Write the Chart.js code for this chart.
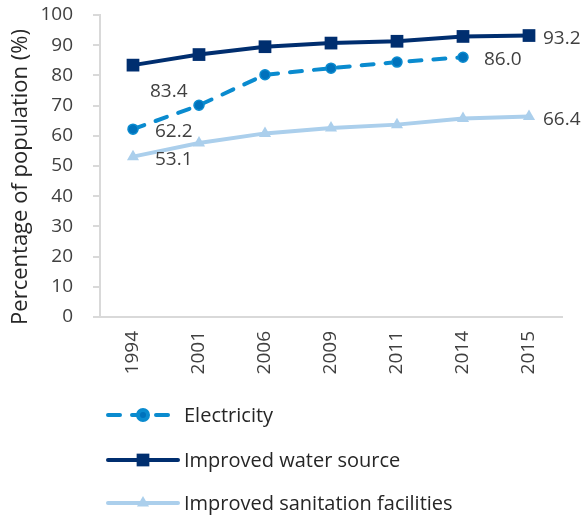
<!DOCTYPE html>
<html>
<head>
<meta charset="utf-8">
<script src="https://cdn.jsdelivr.net/npm/chart.js@4"></script>
<style>
  html, body { margin: 0; padding: 0; background: #fff; }
  #wrap { width: 584px; height: 517px; }
</style>
</head>
<body>
<div id="wrap"><canvas id="chart"></canvas></div>
<script>
// --- data ---
const years = ['1994', '2001', '2006', '2009', '2011', '2014', '2015'];
const electricity = [62.2, 70.1, 80.2, 82.4, 84.4, 86.0, null];
const waterSource = [83.4, 86.9, 89.5, 90.7, 91.3, 92.9, 93.2];
const sanitation = [53.1, 57.6, 60.8, 62.6, 63.7, 65.7, 66.4];
const seriesNames = ['Electricity', 'Improved water source', 'Improved sanitation facilities'];
const yTicks = [0, 10, 20, 30, 40, 50, 60, 70, 80, 90, 100];
const yTitle = 'Percentage of population (%)';

// which points carry a value label (dataset index -> point index, offset)
const valueLabels = [
  { ds: 0, i: 0, dx: 22, dy: 2 },
  { ds: 0, i: 5, dx: 21, dy: 2 },
  { ds: 1, i: 0, dx: 17, dy: 26 },
  { ds: 1, i: 6, dx: 14, dy: 3 },
  { ds: 2, i: 0, dx: 22, dy: 3 },
  { ds: 2, i: 6, dx: 14, dy: 3 }
];

const FONT = "'Open Sans', 'Noto Sans', sans-serif";
const TEXT = '#404040';

// draws the numbers next to the chosen points
const valueLabelPlugin = {
  id: 'valueLabels',
  afterDatasetsDraw(chart) {
    const ctx = chart.ctx;
    ctx.save();
    ctx.font = '19px ' + FONT;
    ctx.fillStyle = TEXT;
    ctx.textAlign = 'left';
    ctx.textBaseline = 'middle';
    valueLabels.forEach(l => {
      const pt = chart.getDatasetMeta(l.ds).data[l.i];
      const v = chart.data.datasets[l.ds].data[l.i];
      ctx.fillText(v.toFixed(1), pt.x + l.dx, pt.y + l.dy);
    });
    ctx.restore();
  }
};

// y axis title, sits a little below the plot centre like the original
const axisTitle = {
  id: 'axisTitle',
  afterDraw(chart) {
    const ctx = chart.ctx;
    const a = chart.chartArea;
    ctx.save();
    ctx.translate(21, (a.top + a.bottom) / 2 + 11);
    ctx.rotate(-Math.PI / 2);
    ctx.font = '22px ' + FONT;
    ctx.fillStyle = '#262626';
    ctx.textAlign = 'center';
    ctx.textBaseline = 'middle';
    ctx.fillText(yTitle, 0, 0);
    ctx.restore();
  }
};

// stacked legend under the axis labels
const stackedLegend = {
  id: 'stackedLegend',
  afterDraw(chart) {
    const ctx = chart.ctx;
    const x0 = 108, x1 = 178, xm = 143, xt = 184;
    const rows = [415, 460, 503];
    ctx.save();
    chart.data.datasets.forEach((ds, k) => {
      const y = rows[k];
      ctx.strokeStyle = ds.borderColor;
      ctx.lineWidth = ds.borderWidth;
      ctx.lineCap = 'round';
      ctx.setLineDash(ds.borderDash || []);
      ctx.beginPath();
      ctx.moveTo(x0, y);
      ctx.lineTo(x1, y);
      ctx.stroke();
      ctx.setLineDash([]);
      ctx.fillStyle = ds.pointBackgroundColor;
      ctx.strokeStyle = ds.pointBorderColor;
      Chart.helpers.drawPoint(ctx, {
        pointStyle: ds.pointStyle,
        radius: ds.pointRadius,
        rotation: 0,
        borderWidth: ds.pointBorderWidth
      }, xm, y);
      ctx.font = '20px ' + FONT;
      ctx.fillStyle = '#262626';
      ctx.textAlign = 'left';
      ctx.textBaseline = 'middle';
      ctx.fillText(ds.label, xt, y + 1);
    });
    ctx.restore();
  }
};

new Chart(document.getElementById('chart'), {
  type: 'line',
  data: {
    labels: years,
    datasets: [
      {
        label: seriesNames[0],
        data: electricity,
        borderColor: '#0a8bcf',
        borderWidth: 4,
        borderDash: [12, 12],
        borderCapStyle: 'round',
        pointStyle: 'circle',
        pointRadius: 5,
        pointBackgroundColor: '#0072bc',
        pointBorderColor: '#0a8bcf',
        pointBorderWidth: 1.5,
        tension: 0,
        spanGaps: false
      },
      {
        label: seriesNames[1],
        data: waterSource,
        borderColor: '#002e6f',
        borderWidth: 4,
        pointStyle: 'rect',
        pointRadius: 9,
        pointBackgroundColor: '#002e6f',
        pointBorderColor: '#002e6f',
        pointBorderWidth: 0,
        tension: 0
      },
      {
        label: seriesNames[2],
        data: sanitation,
        borderColor: '#abcfec',
        borderWidth: 4,
        pointStyle: 'triangle',
        pointRadius: 7,
        pointBackgroundColor: '#abcfec',
        pointBorderColor: '#abcfec',
        pointBorderWidth: 0,
        tension: 0
      }
    ]
  },
  options: {
    responsive: true,
    maintainAspectRatio: false,
    animation: false,
    layout: { padding: { top: 2, right: 22, bottom: 140, left: 0 } },
    plugins: {
      legend: { display: false },
      tooltip: { enabled: false }
    },
    scales: {
      x: {
        offset: true,
        afterFit: s => { s.height = 60; },
        grid: { display: true, drawOnChartArea: false, drawTicks: false },
        border: { display: true, color: '#d9d9d9', width: 2 },
        ticks: {
          minRotation: 90,
          maxRotation: 90,
          padding: 14,
          color: TEXT,
          font: { family: FONT, size: 19 }
        }
      },
      y: {
        min: 0,
        max: 100,
        // fixed gutter, and keep the tick padding from pushing the plot down
        afterFit: s => { s.width = 100; s.paddingTop = 15; s.paddingBottom = 12; },
        afterBuildTicks: s => { s.ticks = yTicks.map(v => ({ value: v })); },
        grid: { display: true, drawOnChartArea: false, drawTicks: true, tickLength: 7, color: '#d9d9d9', lineWidth: 2 },
        border: { display: true, color: '#d9d9d9', width: 2 },
        ticks: {
          padding: 20,
          color: TEXT,
          font: { family: FONT, size: 19 }
        }
      }
    }
  },
  plugins: [valueLabelPlugin, axisTitle, stackedLegend]
});
</script>
</body>
</html>
